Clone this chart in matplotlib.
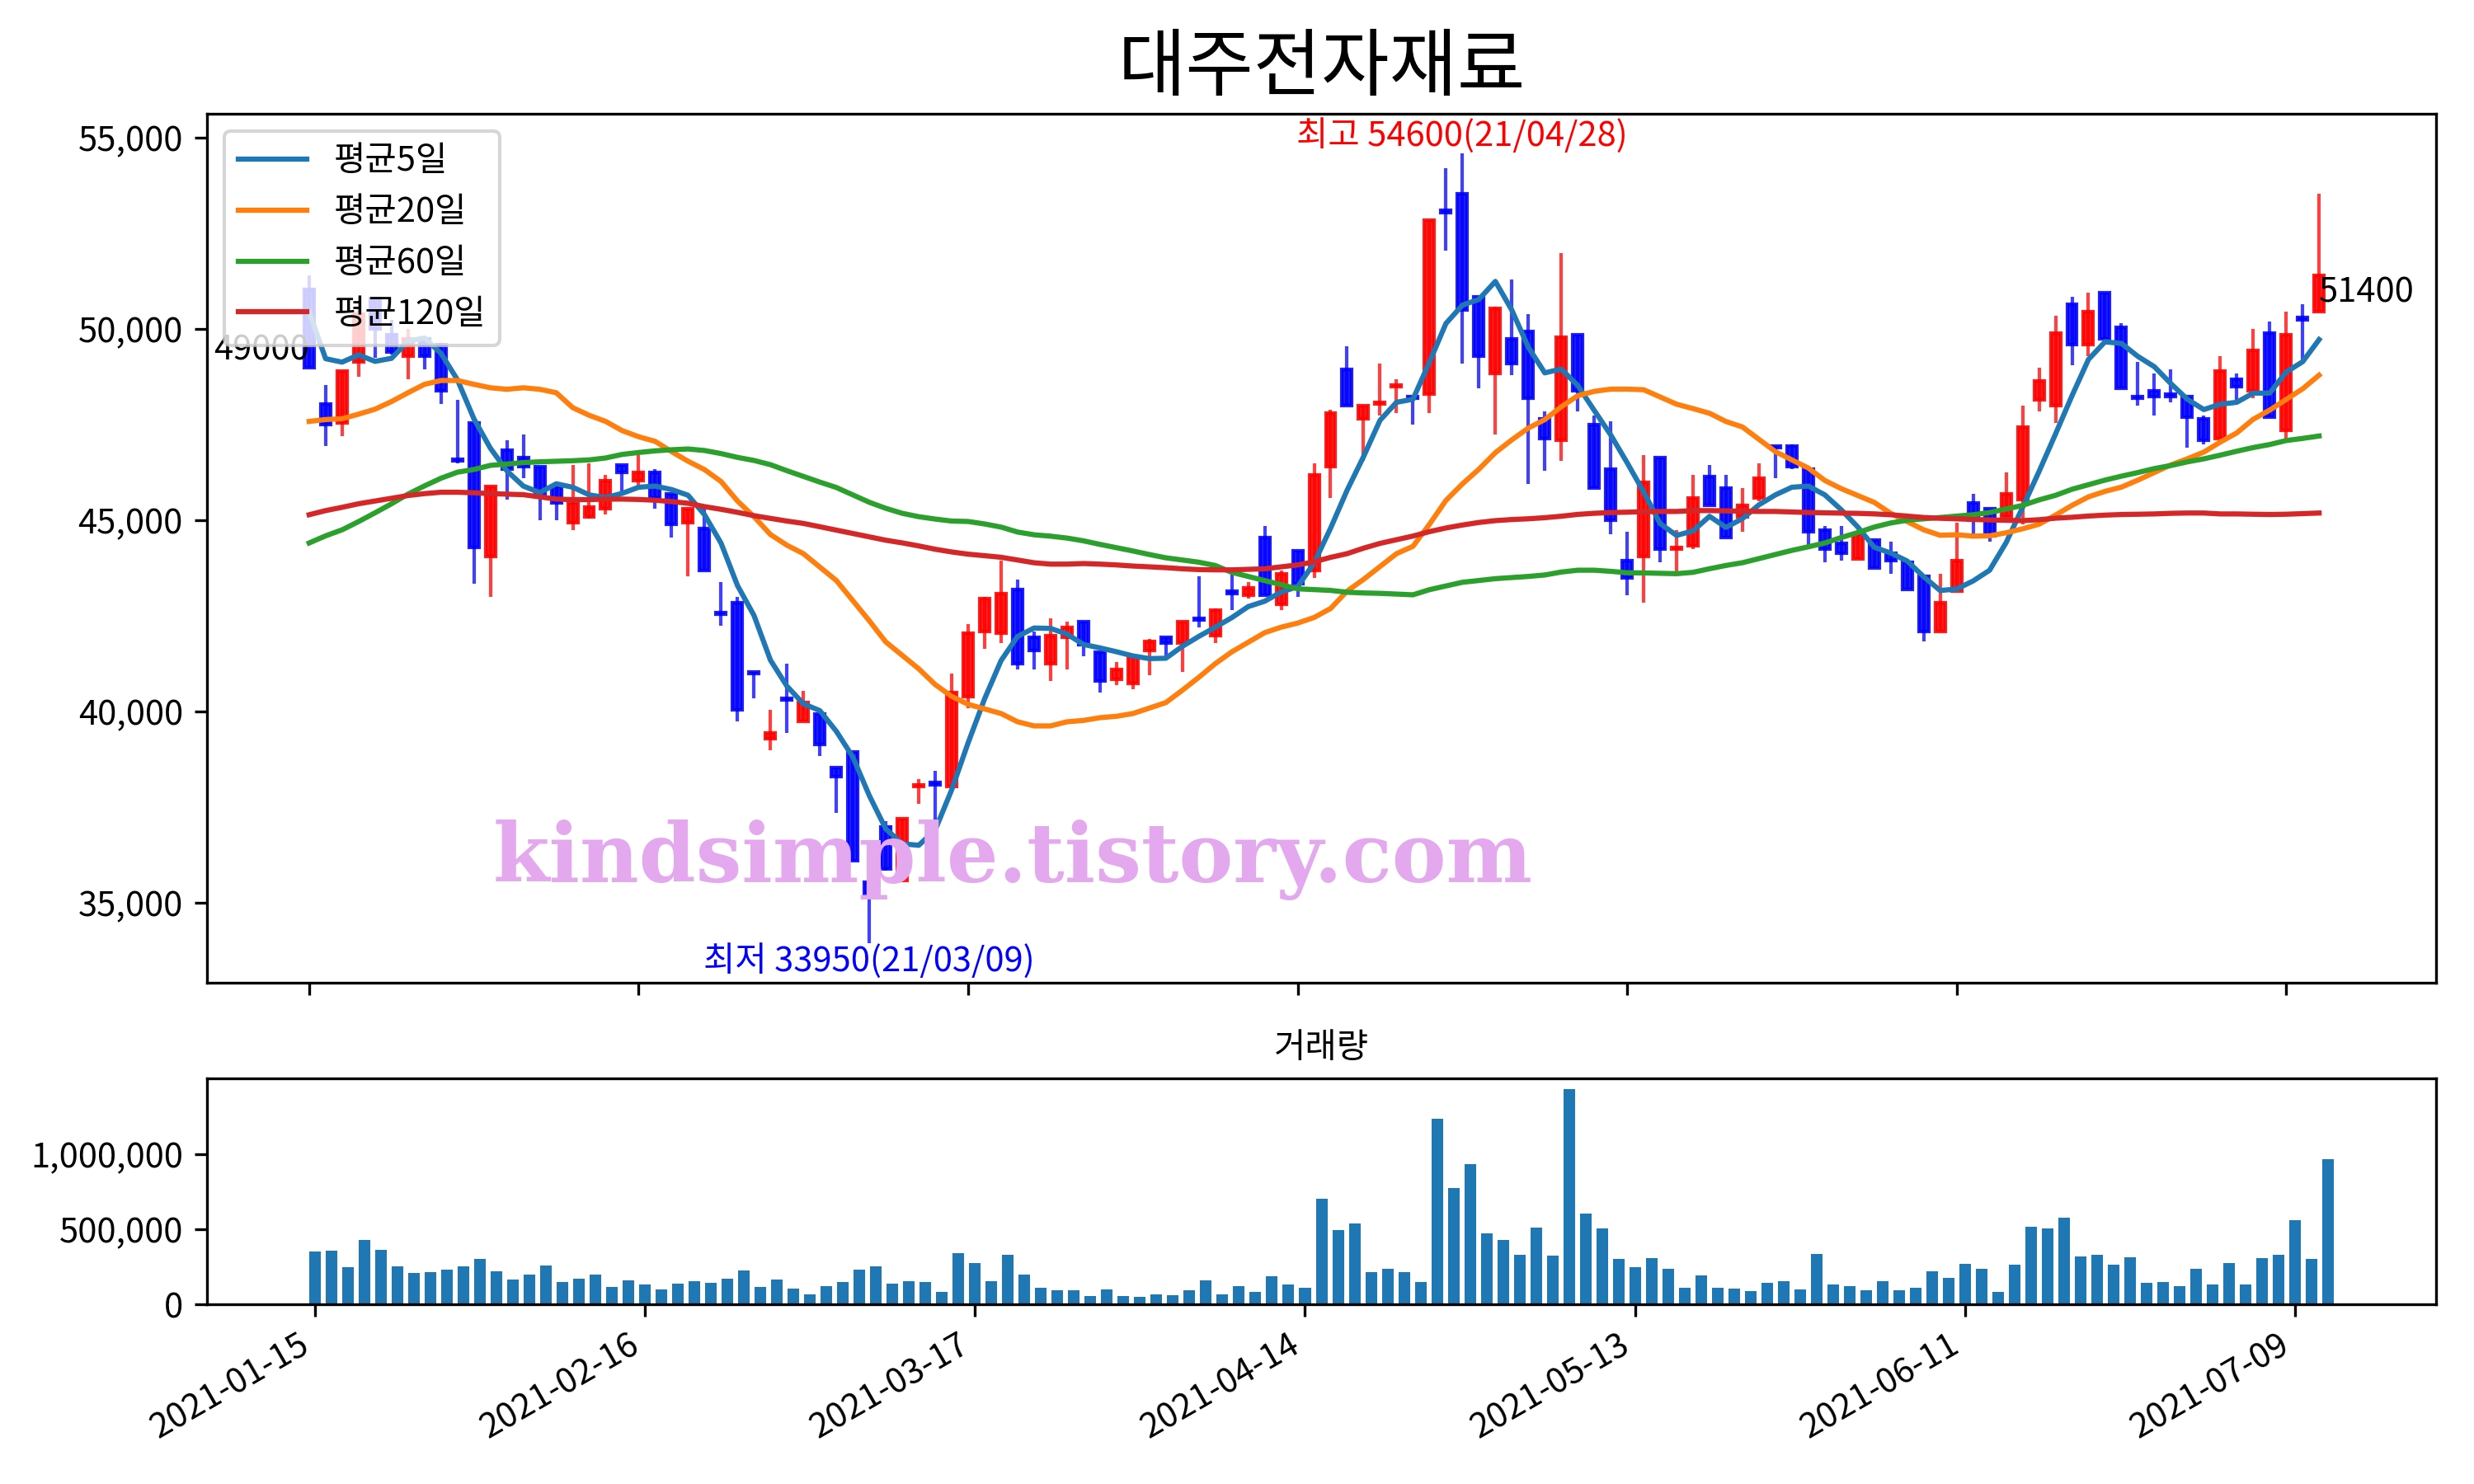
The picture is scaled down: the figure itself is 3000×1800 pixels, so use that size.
import matplotlib
matplotlib.use('Agg')
import matplotlib.pyplot as plt
import numpy as np
from matplotlib.ticker import FuncFormatter

plt.rcParams['font.family'] = ['Noto Sans CJK KR', 'DejaVu Sans']
plt.rcParams['axes.unicode_minus'] = False

title = '대주전자재료'
tick_labels = ['2021-01-15', '2021-02-16', '2021-03-17', '2021-04-14',
               '2021-05-13', '2021-06-11', '2021-07-09']

opens = [51050, 48050, 47550, 49150, 50800, 49850, 49300, 49750, 49600, 46600,
         47550, 44050, 46850, 46650, 46400, 45900, 44950, 45100, 45300, 46450,
         46050, 46250, 45700, 44950, 44800, 42600, 42850, 41050, 39300, 40350,
         39750, 39950, 38550, 38950, 35550, 37000, 35600, 38050, 38150, 38050,
         40400, 42100, 42050, 43200, 41950, 41250, 41950, 42350, 41550, 40850,
         40750, 41600, 41950, 41800, 42450, 42000, 43150, 43050, 44550, 42800,
         44200, 43700, 46400, 48950, 47650, 48050, 48500, 48250, 48300, 53100,
         53550, 50850, 48850, 49750, 49950, 47650, 47100, 49850, 47500, 46350,
         43950, 44050, 46650, 44250, 44350, 46150, 45850, 45100, 45600, 46950,
         46950, 46350, 44750, 44400, 44000, 44500, 44150, 43900, 43550, 42100,
         43150, 45450, 45300, 45100, 45550, 48150, 48000, 50650, 49600, 50950,
         50050, 48250, 48400, 48300, 48250, 47650, 47150, 48700, 48400, 49900,
         47350, 50300, 50450]
highs = [51400, 48550, 48900, 50600, 50850, 50250, 50000, 49800, 49650, 48150,
         47550, 45900, 47100, 47250, 46400, 45900, 46450, 46500, 46200, 46450,
         46700, 46350, 45700, 45300, 45300, 43400, 43000, 41050, 40050, 41250,
         40550, 39950, 38550, 38950, 36000, 37150, 37200, 38250, 38450, 41000,
         42300, 43000, 43950, 43450, 42100, 42450, 42350, 42350, 41550, 41300,
         41500, 41900, 41950, 42350, 43550, 42700, 43750, 43400, 44850, 43700,
         44200, 46500, 47900, 49550, 48000, 49100, 48700, 48250, 52850, 54200,
         54600, 50850, 50600, 51300, 50400, 47850, 52000, 49850, 47750, 47600,
         44700, 46700, 46650, 44750, 46200, 46450, 46200, 45850, 46500, 46950,
         47000, 46350, 44850, 44850, 44750, 44500, 44450, 43900, 43550, 43600,
         44950, 45700, 45300, 46250, 48000, 49000, 50350, 50850, 50950, 50950,
         50150, 49150, 48850, 48950, 48250, 47750, 49300, 48850, 50000, 50200,
         50450, 50650, 53550]
lows = [49000, 46950, 47200, 48750, 49250, 49350, 48700, 48950, 48050, 46500,
        43350, 43000, 45550, 46100, 45000, 45000, 44750, 45050, 45150, 45750,
        45800, 45300, 44550, 43550, 43700, 42250, 39750, 40350, 39000, 39450,
        39750, 38850, 37350, 36100, 33950, 35850, 35550, 37600, 37050, 38050,
        40100, 41650, 41800, 41100, 41100, 40800, 41100, 41450, 40500, 40700,
        40600, 40950, 41450, 41050, 42200, 41800, 42650, 42950, 43050, 42650,
        43000, 43500, 45600, 48000, 46550, 47750, 47800, 47500, 47800, 52050,
        49100, 48450, 47250, 48800, 45950, 46300, 46550, 47850, 45850, 44650,
        43050, 42850, 43900, 43650, 44250, 45400, 44550, 44700, 45500, 46100,
        46350, 44350, 43900, 43950, 44000, 43750, 43600, 43200, 41850, 42100,
        43150, 44650, 44450, 45100, 44900, 47850, 47550, 49050, 49300, 49750,
        48450, 48000, 47750, 48100, 46900, 47000, 47150, 48150, 48200, 47700,
        47150, 49200, 50450]
closes = [49000, 47500, 48900, 50400, 50000, 49400, 49750, 49300, 48400, 46550,
          44300, 45900, 46350, 46400, 45700, 45450, 45450, 45350, 46050, 46250,
          46250, 45600, 44900, 45300, 43700, 42550, 40050, 41000, 39450, 40300,
          40250, 39150, 38300, 36100, 35250, 35900, 37200, 38100, 38100, 40500,
          42050, 42950, 43100, 41250, 41600, 42000, 42200, 41750, 40800, 41100,
          41450, 41850, 41800, 42350, 42400, 42650, 43100, 43250, 43050, 43600,
          43350, 46200, 47800, 48000, 48000, 48100, 48550, 48200, 52850, 53050,
          50500, 49300, 50550, 49100, 48200, 47150, 49800, 48400, 45850, 45000,
          43500, 46000, 44250, 44300, 45600, 45400, 44550, 45400, 46100, 46900,
          46400, 44700, 44250, 44150, 44650, 43750, 43950, 43200, 42100, 42850,
          43950, 45000, 44600, 45700, 47450, 48650, 49900, 49600, 50450, 49750,
          48450, 48200, 48250, 48250, 47700, 47100, 48900, 48500, 49450, 47700,
          49850, 50250, 51400]
# closes of the four sessions before the first one shown (for the 5-day average)
prior_closes = [53600, 49350, 49450, 50850]

volumes = [353000, 357000, 247000, 429000, 363000, 253000, 210000, 216000, 231000, 253000,
           302000, 220000, 165000, 198000, 259000, 149000, 171000, 198000, 116000, 161000,
           133000, 100000, 137000, 155000, 143000, 171000, 226000, 116000, 165000, 106000,
           67000, 122000, 149000, 231000, 253000, 137000, 155000, 149000, 82000, 341000,
           275000, 155000, 329000, 198000, 110000, 94000, 94000, 55000, 100000, 55000,
           51000, 67000, 61000, 94000, 161000, 67000, 122000, 82000, 184000, 133000,
           110000, 704000, 494000, 539000, 216000, 237000, 216000, 149000, 1235000, 775000,
           933000, 473000, 429000, 329000, 512000, 326000, 1433000, 604000, 506000, 302000,
           247000, 308000, 237000, 110000, 192000, 110000, 106000, 88000, 143000, 155000,
           100000, 335000, 133000, 122000, 94000, 155000, 94000, 110000, 220000, 176000,
           271000, 237000, 82000, 265000, 518000, 506000, 577000, 320000, 329000, 265000,
           314000, 143000, 149000, 122000, 237000, 133000, 275000, 133000, 308000, 329000,
           561000, 302000, 967000]

ma20 = [47590, 47640, 47660, 47780, 47910, 48110, 48340, 48560, 48660, 48660,
        48560, 48470, 48430, 48470, 48430, 48340, 47950, 47750, 47590, 47350,
        47190, 47070, 46800, 46550, 46330, 46020, 45510, 45100, 44635, 44354,
        44134, 43783, 43432, 42906, 42379, 41826, 41475, 41124, 40711, 40404,
        40195, 40075, 39954, 39739, 39631, 39631, 39739, 39774, 39846, 39882,
        39954, 40097, 40240, 40563, 40900, 41258, 41566, 41817, 42068, 42212,
        42319, 42465, 42700, 43154, 43461, 43797, 44133, 44325, 44901, 45525,
        45957, 46341, 46773, 47109, 47416, 47637, 47973, 48261, 48376, 48434,
        48434, 48420, 48230, 48040, 47925, 47803, 47588, 47445, 47122, 46800,
        46585, 46370, 46047, 45832, 45653, 45474, 45187, 44972, 44757, 44614,
        44628, 44592, 44600, 44679, 44783, 44902, 45141, 45395, 45618, 45761,
        45872, 46056, 46254, 46453, 46612, 46787, 47050, 47289, 47647, 47885,
        48164, 48442, 48800]
ma60 = [44413, 44599, 44757, 44972, 45201, 45438, 45689, 45904, 46105, 46263,
        46334, 46441, 46477, 46513, 46535, 46549, 46563, 46585, 46635, 46728,
        46778, 46821, 46850, 46870, 46830, 46750, 46650, 46570, 46460, 46302,
        46153, 46004, 45863, 45670, 45477, 45319, 45188, 45100, 45038, 44986,
        44975, 44910, 44828, 44699, 44627, 44591, 44541, 44469, 44376, 44290,
        44204, 44111, 44025, 43968, 43910, 43824, 43645, 43538, 43430, 43323,
        43215, 43194, 43173, 43125, 43106, 43096, 43077, 43058, 43192, 43289,
        43385, 43432, 43480, 43509, 43538, 43576, 43653, 43701, 43701, 43672,
        43634, 43630, 43620, 43610, 43646, 43739, 43825, 43897, 44004, 44112,
        44219, 44313, 44413, 44556, 44685, 44829, 44936, 45008, 45044, 45079,
        45115, 45151, 45210, 45300, 45395, 45539, 45658, 45817, 45936, 46056,
        46159, 46254, 46358, 46437, 46533, 46612, 46708, 46811, 46907, 46986,
        47090, 47146, 47209]
ma120 = [45151, 45259, 45345, 45438, 45510, 45581, 45653, 45703, 45739, 45739,
         45725, 45703, 45689, 45675, 45617, 45560, 45546, 45546, 45560, 45560,
         45550, 45530, 45495, 45451, 45363, 45293, 45214, 45126, 45056, 44986,
         44924, 44837, 44749, 44661, 44573, 44485, 44415, 44336, 44249, 44178,
         44120, 44080, 44039, 43968, 43896, 43860, 43860, 43875, 43860, 43839,
         43810, 43789, 43767, 43738, 43717, 43710, 43710, 43724, 43738, 43789,
         43839, 43920, 44037, 44133, 44277, 44402, 44498, 44594, 44709, 44805,
         44882, 44949, 44997, 45026, 45045, 45074, 45112, 45160, 45189, 45208,
         45218, 45230, 45235, 45237, 45259, 45259, 45252, 45244, 45237, 45237,
         45223, 45209, 45201, 45194, 45187, 45173, 45151, 45115, 45079, 45058,
         45044, 45029, 45015, 45005, 44997, 45021, 45061, 45085, 45117, 45141,
         45157, 45164, 45172, 45188, 45196, 45196, 45172, 45172, 45164, 45157,
         45164, 45180, 45196]

o = np.array(opens, float)
h = np.array(highs, float)
l = np.array(lows, float)
c = np.array(closes, float)
n = len(c)
x = np.arange(n)
allc = np.concatenate([prior_closes, c])
ma5 = np.convolve(allc, np.ones(5) / 5, mode='valid')

fig = plt.figure(figsize=(10, 6), dpi=300)
ax = fig.add_axes([0.08367, 0.33778, 0.90100, 0.58556])
axv = fig.add_axes([0.08367, 0.12111, 0.90100, 0.15222])

up = c >= o
cols = np.where(up, '#ff0000', '#0000ff')

ax.vlines(x, l, h, colors=cols, linewidth=1.0, alpha=0.75, zorder=2)
ax.bar(x, np.abs(c - o), bottom=np.minimum(o, c), width=0.6, color=cols,
       edgecolor=cols, linewidth=1.0, alpha=0.88, zorder=3)

ax.plot(x, ma5, color='tab:blue', lw=1.5, label='평균5일', zorder=4)
ax.plot(x, ma20, color='tab:orange', lw=1.5, label='평균20일', zorder=4)
ax.plot(x, ma60, color='tab:green', lw=1.5, label='평균60일', zorder=4)
ax.plot(x, ma120, color='tab:red', lw=1.5, label='평균120일', zorder=4)

imax = int(np.argmax(h))
imin = int(np.argmin(l))
ax.text(imax, h[imax], '최고 54600(21/04/28)', color='red', ha='center', va='bottom', fontsize=10)
ax.text(imin, l[imin], '최저 33950(21/03/09)', color='blue', ha='center', va='top', fontsize=10)
ax.text(0, c[0], f'{int(c[0])}', ha='right', va='bottom', fontsize=10)
ax.text(n - 1, c[-1], f'{int(c[-1])}', ha='left', va='top', fontsize=10)

ax.text(0.3615, 0.141, 'kindsimple.tistory.com', transform=ax.transAxes,
        ha='center', va='center', fontsize=23.7, fontweight='bold',
        family='DejaVu Serif', color='#e3a8ee', zorder=10)

ax.legend(loc='upper left', fontsize=10)
ax.set_title(title, fontsize=21.5, pad=7)

tick_pos = list(range(0, n, 20))
ax.set_xlim(-6.2, 129.1)
ax.set_xticks(tick_pos)
ax.set_xticklabels([])
ax.set_yticks([35000, 40000, 45000, 50000, 55000])
fmt = FuncFormatter(lambda v, p: f'{int(v):,}')
ax.yaxis.set_major_formatter(fmt)

axv.bar(x, volumes, width=0.7, color='tab:blue')
axv.set_xlim(-6.54, 128.54)
axv.set_xticks(tick_pos)
axv.set_xticklabels(tick_labels, rotation=30, ha='right')
axv.set_yticks([0, 500000, 1000000])
axv.yaxis.set_major_formatter(fmt)
axv.set_title('거래량', fontsize=10)

fig.savefig('out.png', dpi=300)
